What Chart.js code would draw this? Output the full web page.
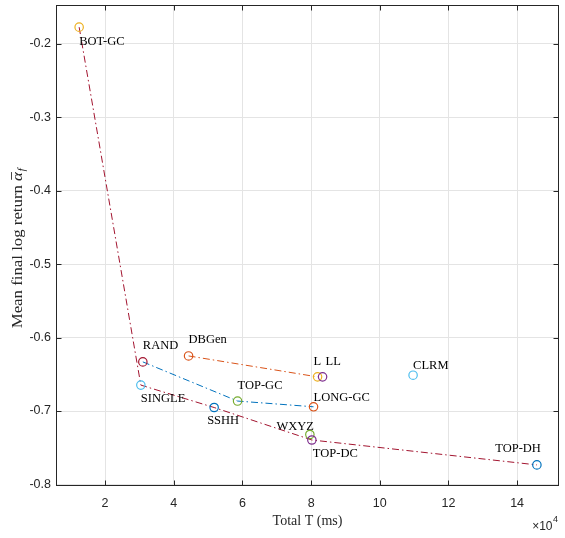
<!DOCTYPE html>
<html>
<head>
<meta charset="utf-8">
<script src="https://cdn.jsdelivr.net/npm/chart.js@4.4.0/dist/chart.umd.min.js"></script>
<style>
  html, body { margin: 0; padding: 0; background: #fff; }
  #wrap { width: 565px; height: 538px; }
</style>
</head>
<body>
<div id="wrap"><canvas id="returnChart" width="565" height="538"></canvas></div>
<script>
// methods, total time (ms) and mean final log return
const methods = ['BOT-GC', 'RAND', 'SINGLE', 'DBGen', 'L', 'LL', 'TOP-GC', 'LONG-GC', 'SSHH', 'WXYZ', 'TOP-DC', 'CLRM', 'TOP-DH'];
const totalT = [12440, 30990, 30410, 44310, 81880, 83340, 58580, 80710, 51760, 79640, 80220, 109700, 145760];
const meanReturn = [-0.1776, -0.6331, -0.6647, -0.6250, -0.6535, -0.6535, -0.6864, -0.6942, -0.6952, -0.7319, -0.7394, -0.6512, -0.7733];

// connected groups
const frontierPath = ['BOT-GC', 'SINGLE', 'SSHH', 'TOP-DC', 'TOP-DH'];
const gcPath = ['RAND', 'TOP-GC', 'LONG-GC'];
const genPath = ['DBGen', 'L'];

const xTicks = [20000, 40000, 60000, 80000, 100000, 120000, 140000];
const yTicks = [-0.8, -0.7, -0.6, -0.5, -0.4, -0.3, -0.2];

// styles
const C = { blue: '#0072BD', orange: '#D95319', yellow: '#EDB120', purple: '#7E2F8E', green: '#77AC30', cyan: '#4DBEEE', red: '#A2142F' };
const markerColors = [C.yellow, C.red, C.cyan, C.orange, C.yellow, C.purple, C.green, C.orange, C.blue, C.green, C.purple, C.cyan, C.blue];
// [dx, dy, align] for each text label, in pixels from the marker
const labelOffsets = [[0, 15, 'left'], [0, -16, 'left'], [0, 14, 'left'], [0, -16, 'left'], [-4, -15, 'left'], [3, -15, 'left'],
  [0, -15, 'left'], [0, -9, 'left'], [-7, 13, 'left'], [4, -8, 'right'], [1, 14, 'left'], [0, -9, 'left'], [4, -16, 'right']];

const SERIF = '"Liberation Serif", "Times New Roman", serif';
const SANS = '"Liberation Sans", Arial, sans-serif';
const INK = '#262626';

function pathPoints(path) {
    return path.map(function(name) {
        const i = methods.indexOf(name);
        return { x: totalT[i], y: meanReturn[i] };
    });
}

function lineSet(path, color) {
    return {
        data: pathPoints(path),
        showLine: true,
        borderColor: color,
        borderWidth: 1,
        borderDash: [7, 3, 1.5, 3],
        pointRadius: 0,
        fill: false
    };
}

const annotate = {
    id: 'annotate',
    afterDatasetsDraw(chart) {
        const ctx = chart.ctx;
        const x = chart.scales.x, y = chart.scales.y;
        ctx.save();
        ctx.fillStyle = '#000';
        ctx.font = '12.5px ' + SERIF;
        ctx.textBaseline = 'middle';
        methods.forEach(function(name, i) {
            const o = labelOffsets[i];
            ctx.textAlign = o[2];
            ctx.fillText(name, x.getPixelForValue(totalT[i]) + o[0], y.getPixelForValue(meanReturn[i]) + o[1]);
        });
        ctx.restore();
    },
    afterDraw(chart) {
        const ctx = chart.ctx;
        const a = chart.chartArea;
        const x = chart.scales.x, y = chart.scales.y;
        ctx.save();
        ctx.strokeStyle = INK;
        ctx.lineWidth = 1;
        const L = Math.round(a.left) + 0.5, R = Math.round(a.right) - 0.5;
        const T = Math.round(a.top) + 0.5, B = Math.round(a.bottom) - 0.5;
        ctx.strokeRect(L, T, R - L, B - T);
        // inward ticks on all four sides
        ctx.beginPath();
        xTicks.forEach(function(v) {
            const px = Math.round(x.getPixelForValue(v)) + 0.5;
            ctx.moveTo(px, B); ctx.lineTo(px, B - 5);
            ctx.moveTo(px, T); ctx.lineTo(px, T + 5);
        });
        yTicks.forEach(function(v) {
            const py = Math.round(y.getPixelForValue(v)) + 0.5;
            ctx.moveTo(L, py); ctx.lineTo(L + 5, py);
            ctx.moveTo(R, py); ctx.lineTo(R - 5, py);
        });
        ctx.stroke();

        // x axis title and exponent
        ctx.fillStyle = INK;
        ctx.textBaseline = 'middle';
        ctx.textAlign = 'center';
        ctx.font = '14px ' + SERIF;
        ctx.fillText('Total T (ms)', (a.left + a.right) / 2, 521);
        ctx.textAlign = 'right';
        ctx.font = '9px ' + SANS;
        ctx.fillText('4', 558, 520);
        const sw = ctx.measureText('4').width;
        ctx.font = '12px ' + SANS;
        ctx.fillText('\u00d710', 558 - sw - 0.5, 527);

        // y axis title, rotated, with a barred alpha and subscript f
        ctx.translate(17, 248);
        ctx.rotate(-Math.PI / 2);
        ctx.scale(1.12, 1);
        ctx.textAlign = 'left';
        ctx.textBaseline = 'alphabetic';
        const main = 'Mean final log return ';
        ctx.font = '15px ' + SERIF;
        const w1 = ctx.measureText(main).width;
        ctx.font = 'italic 15px ' + SERIF;
        const w2 = ctx.measureText('\u03b1').width;
        ctx.font = 'italic 10.5px ' + SERIF;
        const w3 = ctx.measureText('f').width;
        let cx = -(w1 + w2 + w3 + 1) / 2;
        ctx.font = '15px ' + SERIF;
        ctx.fillText(main, cx, 5);
        cx += w1;
        ctx.font = 'italic 15px ' + SERIF;
        ctx.fillText('\u03b1', cx, 5);
        ctx.beginPath();
        ctx.lineWidth = 0.8;
        ctx.moveTo(cx + 1, -5.5); ctx.lineTo(cx + w2, -5.5);
        ctx.stroke();
        cx += w2 + 0.5;
        ctx.font = 'italic 10.5px ' + SERIF;
        ctx.fillText('f', cx, 8);
        ctx.restore();
    }
};

const markerPoints = methods.map(function(name, i) {
    return { x: totalT[i], y: meanReturn[i] };
});

new Chart(document.getElementById('returnChart'), {
    type: 'scatter',
    data: {
        datasets: [
            {
                data: markerPoints,
                pointRadius: 4.2,
                pointBorderWidth: 1.2,
                pointBorderColor: markerColors,
                pointBackgroundColor: 'rgba(0,0,0,0)',
                showLine: false
            },
            lineSet(frontierPath, C.red),
            lineSet(gcPath, C.blue),
            lineSet(genPath, C.orange)
        ]
    },
    options: {
        responsive: false,
        animation: false,
        devicePixelRatio: 1,
        layout: { padding: { top: 4, right: 6, left: 0, bottom: 0 } },
        plugins: {
            legend: { display: false },
            tooltip: { enabled: false }
        },
        scales: {
            x: {
                type: 'linear',
                min: 5700,
                max: 152200,
                afterBuildTicks: function(scale) { scale.ticks = xTicks.map(function(v) { return { value: v }; }); },
                afterFit: function(scale) {
                    scale.height = 52;
                    scale.paddingLeft = 0;
                    scale.paddingRight = 0;
                },
                grid: { color: '#e4e4e4', drawTicks: false },
                border: { display: false },
                ticks: {
                    padding: 10,
                    color: INK,
                    font: { family: SANS, size: 12.5 },
                    maxRotation: 0,
                    callback: function(v) { return String(v / 10000); }
                }
            },
            y: {
                type: 'linear',
                min: -0.802,
                max: -0.148,
                afterBuildTicks: function(scale) { scale.ticks = yTicks.map(function(v) { return { value: v }; }); },
                afterFit: function(scale) {
                    scale.width = 56;
                    scale.paddingTop = 0;
                    scale.paddingBottom = 0;
                },
                grid: { color: '#e4e4e4', drawTicks: false },
                border: { display: false },
                ticks: {
                    padding: 5,
                    color: INK,
                    font: { family: SANS, size: 12.5 },
                    callback: function(v) { return v.toFixed(1); }
                }
            }
        }
    },
    plugins: [annotate]
});
</script>
</body>
</html>
